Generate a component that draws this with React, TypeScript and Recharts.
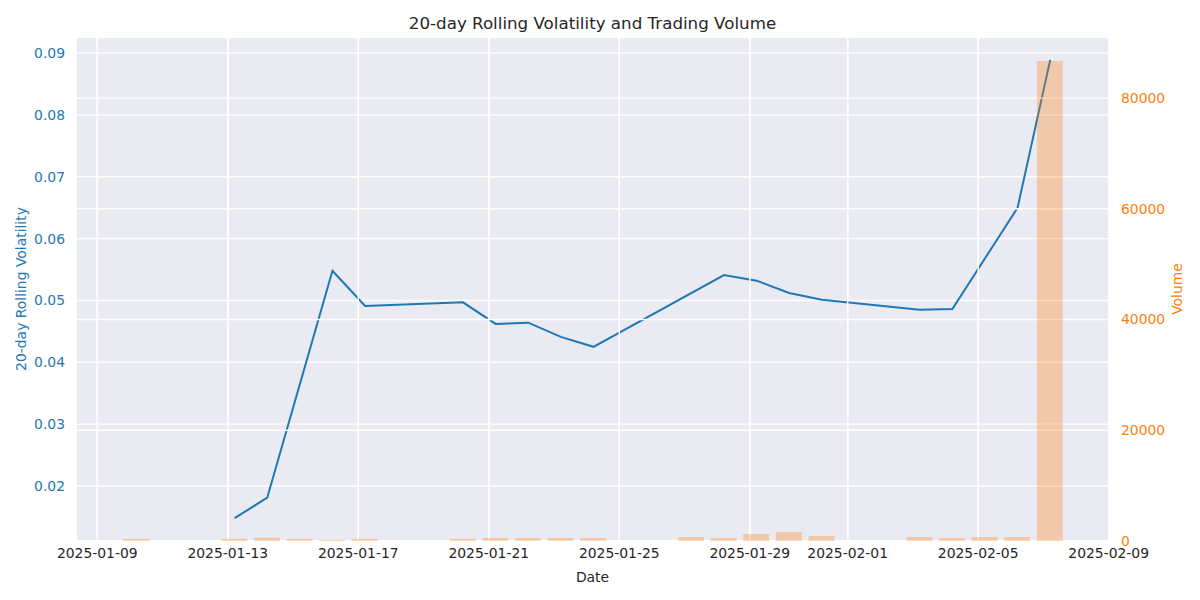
import React from 'react';
import {
  ComposedChart,
  Line,
  Bar,
  XAxis,
  YAxis,
  CartesianGrid,
} from 'recharts';

// trading days shown in the chart (timestamps sit at 05:00 UTC)
const dates = [
  '2025-01-10', '2025-01-13', '2025-01-14', '2025-01-15', '2025-01-16', '2025-01-17',
  '2025-01-20', '2025-01-21', '2025-01-22', '2025-01-23', '2025-01-24',
  '2025-01-27', '2025-01-28', '2025-01-29', '2025-01-30', '2025-01-31',
  '2025-02-03', '2025-02-04', '2025-02-05', '2025-02-06', '2025-02-07',
];

// 20-day rolling volatility (null where the series has no value)
const volatility = [
  null, 0.0148, 0.0181, null, 0.0548, 0.0491,
  0.0497, 0.0462, 0.0464, 0.0441, 0.0425,
  null, 0.0541, 0.0532, 0.0512, 0.0501,
  0.0485, 0.0486, null, 0.065, 0.0889,
];

const volume = [
  400, 400, 600, 400, 200, 400,
  400, 550, 550, 550, 550,
  720, 550, 1260, 1600, 900,
  720, 550, 720, 720, 86700,
];

const xTickDates = [
  '2025-01-09', '2025-01-13', '2025-01-17', '2025-01-21', '2025-01-25',
  '2025-01-29', '2025-02-01', '2025-02-05', '2025-02-09',
];
const volTicks = [0.02, 0.03, 0.04, 0.05, 0.06, 0.07, 0.08, 0.09];
const volumeTicks = [0, 20000, 40000, 60000, 80000];

const COLORS = {
  line: '#1f77b4',
  bar: '#ff7f0e',
  bg: '#eaeaf2',
  text: '#262626',
};

const DAY = 86400000;
const origin = Date.parse('2025-01-09T00:00:00Z');
const toDay = (iso: string) => (Date.parse(iso) - origin) / DAY;
const fromDay = (n: number) =>
  new Date(origin + Math.round(n) * DAY).toISOString().slice(0, 10);

const data = dates.map((d, i) => ({
  day: toDay(d + 'T05:00:00Z'),
  volatility: volatility[i],
  volume: volume[i],
}));

const FONT = '"DejaVu Sans", sans-serif';

export default function App() {
  return (
    <div style={{ position: 'absolute', left: 0, top: 0, width: 1200, height: 600, background: '#fff' }}>
      <ComposedChart
        width={1200}
        height={600}
        data={data}
        margin={{ top: 37, right: 0, bottom: 0, left: 0 }}
        style={{ fontFamily: FONT }}
      >
        <CartesianGrid
          xAxisId="x"
          yAxisId="left"
          stroke="#fff"
          strokeWidth={1.4}
          fill={COLORS.bg}
          fillOpacity={1}
        />
        <XAxis
          xAxisId="x"
          dataKey="day"
          type="number"
          domain={[-0.653, 31.01]}
          allowDataOverflow
          ticks={xTickDates.map((d) => toDay(d + 'T00:00:00Z'))}
          tickFormatter={fromDay}
          interval={0}
          height={59}
          axisLine={false}
          tickLine={false}
          tickSize={0}
          tickMargin={7}
          tick={{ fill: COLORS.text, fontSize: 13.9 }}
        />
        <YAxis
          yAxisId="left"
          domain={[0.0111, 0.0926]}
          allowDataOverflow
          ticks={volTicks}
          tickFormatter={(v: number) => v.toFixed(2)}
          width={76}
          axisLine={false}
          tickLine={false}
          tickSize={0}
          tickMargin={11}
          tick={{ fill: COLORS.line, fontSize: 13.9 }}
        />
        <YAxis
          yAxisId="right"
          orientation="right"
          domain={[0, 91035]}
          allowDataOverflow
          ticks={volumeTicks}
          width={91}
          axisLine={false}
          tickLine={false}
          tickSize={0}
          tickMargin={12}
          tick={{ fill: COLORS.bar, fontSize: 13.9, textAnchor: 'start' }}
        />
        <Line
          xAxisId="x"
          yAxisId="left"
          dataKey="volatility"
          type="linear"
          stroke={COLORS.line}
          strokeWidth={2}
          dot={false}
          connectNulls
          isAnimationActive={false}
        />
        {/* twin axis grid sits over the line, like matplotlib's twinx */}
        <CartesianGrid
          xAxisId="x"
          yAxisId="right"
          stroke="#fff"
          strokeWidth={1.4}
          fill="none"
          zIndex={410}
        />
        <Bar
          xAxisId="x"
          yAxisId="right"
          dataKey="volume"
          fill={COLORS.bar}
          fillOpacity={0.3}
          barSize={26}
          zIndex={420}
          isAnimationActive={false}
        />
      </ComposedChart>
      <svg
        width={1200}
        height={600}
        style={{ position: 'absolute', left: 0, top: 0, pointerEvents: 'none', fontFamily: FONT }}
      >
        <text x={592.5} y={23} textAnchor="middle" dominantBaseline="central" fontSize={16.7} fill={COLORS.text}>
          20-day Rolling Volatility and Trading Volume
        </text>
        <text x={592.5} y={577} textAnchor="middle" dominantBaseline="central" fontSize={13.9} fill={COLORS.text}>
          Date
        </text>
        <text
          x={21}
          y={289}
          textAnchor="middle"
          dominantBaseline="central"
          fontSize={13.9}
          fill={COLORS.line}
          transform="rotate(-90 21 289)"
        >
          20-day Rolling Volatility
        </text>
        <text
          x={1177}
          y={289}
          textAnchor="middle"
          dominantBaseline="central"
          fontSize={13.9}
          fill={COLORS.bar}
          transform="rotate(-90 1177 289)"
        >
          Volume
        </text>
      </svg>
    </div>
  );
}
